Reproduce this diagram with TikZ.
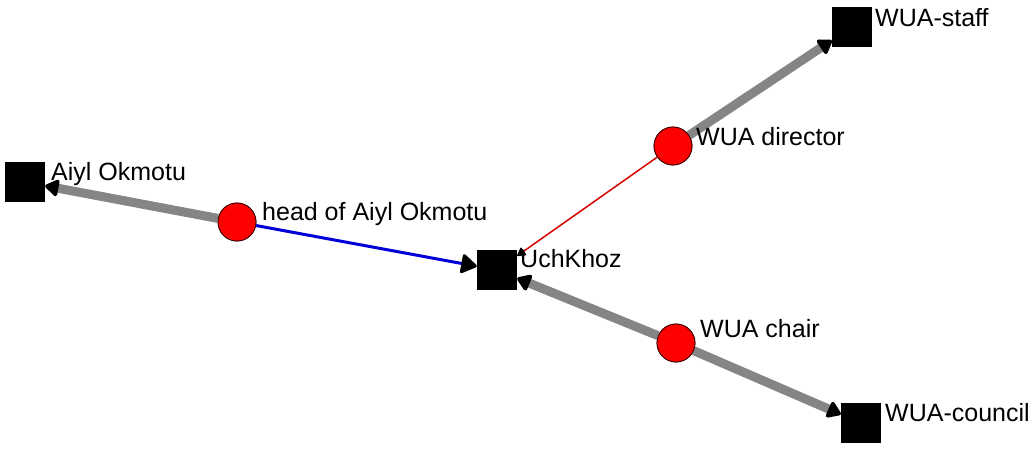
\documentclass[tikz,border=0pt]{standalone}
\usepackage{fontspec}
\setmainfont{Liberation Sans}
\usetikzlibrary{arrows.meta}
\tikzset{
  sq/.style={rectangle, fill=black, minimum size=40pt, inner sep=0pt},
  person/.style={circle, fill=red, draw=black!80!red, line width=0.8pt, minimum size=38pt, inner sep=0pt},
  lbl/.style={anchor=base west, inner sep=0pt, font=\fontsize{25}{29}\selectfont},
  tip/.style={-{Triangle[round, color=black, fill=black, length=15pt, width=19pt]}},
  thick gray/.style={tip, draw=black!48, line width=9pt},
  blueedge/.style={-{Triangle[round, color=black, fill=black, length=17pt, width=21pt]}, draw=blue!85!black, line width=3pt},
  rededge/.style={-{Triangle[round, color=black, fill=black, length=9pt, width=10pt]}, draw=red!85!black, line width=1.5pt},
}
\begin{document}
\begin{tikzpicture}[x=1pt, y=-1pt]
\useasboundingbox[fill=white] (0,0) rectangle (1032,451);
% nodes
\node[sq] (aiyl) at (25,182) {};
\node[sq] (uch) at (497,270) {};
\node[sq] (staff) at (852,27) {};
\node[sq] (council) at (861,423) {};
\node[person] (head) at (237,222) {};
\node[person] (dir) at (673,146) {};
\node[person] (chair) at (676,343) {};
% edges
\draw[thick gray] (head) -- (aiyl);
\draw[thick gray] (dir) -- (staff);
\draw[thick gray] (chair) -- (uch);
\draw[thick gray] (chair) -- (council);
\draw[blueedge] (head) -- (uch);
\draw[rededge] (dir) -- (uch);
% redraw nodes on top
\node[sq] at (aiyl) {};
\node[sq] at (uch) {};
\node[sq] at (staff) {};
\node[sq] at (council) {};
\node[person] at (head) {};
\node[person] at (dir) {};
\node[person] at (chair) {};
% labels
\node[lbl] (laiyl) at (51,180) {Aiyl Okmotu};
\node[lbl] (lhead) at (262,220) {head of Aiyl Okmotu};
\node[lbl] (luch) at (520,267) {UchKhoz};
\node[lbl] (ldir) at (696,145) {WUA director};
\node[lbl] (lstaff) at (875,26) {WUA-staff};
\node[lbl] (lchair) at (700,337) {WUA chair};
\node[lbl] (lcouncil) at (885,421) {WUA-council};
\end{tikzpicture}
\end{document}
